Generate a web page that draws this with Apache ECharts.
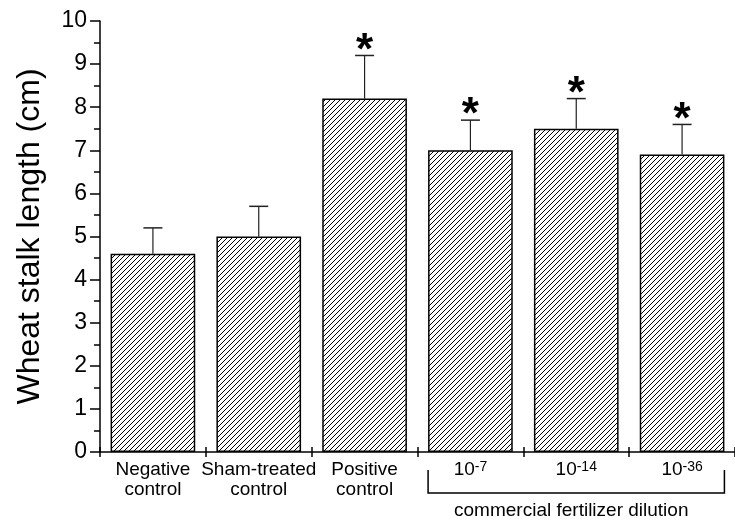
<!DOCTYPE html>
<html><head><meta charset="utf-8">
<script src="https://cdn.jsdelivr.net/npm/echarts@6/dist/echarts.min.js"></script>
<style>html,body{margin:0;padding:0;background:#fff}#c{width:735px;height:521px}</style>
</head><body><div id="c"></div>
<script>
// ---- data ----
const categories = ['Negative control', 'Sham-treated control', 'Positive control', '1e-7', '1e-14', '1e-36'];
const categoryLabels = ['Negative\ncontrol', 'Sham-treated\ncontrol', 'Positive\ncontrol', '{b|10}{s|-7}', '{b|10}{s|-14}', '{b|10}{s|-36}'];
const means = [4.6, 5.0, 8.2, 7.0, 7.5, 6.9];
const errorTops = [5.2, 5.7, 9.2, 7.7, 8.2, 7.6];
const significant = [0, 0, 1, 1, 1, 1];
const yMin = 0, yMax = 10, yStep = 1;
const yTitle = 'Wheat stalk length (cm)';
const groupLabel = 'commercial fertilizer dilution';
const groupFirst = 3, groupLast = 5;

const FONT = '"Liberation Sans", Arial, sans-serif';

function hatchPattern() {
  const s = 5, c = document.createElement('canvas');
  c.width = s; c.height = s;
  const g = c.getContext('2d');
  g.fillStyle = '#fff'; g.fillRect(0, 0, s, s);
  g.strokeStyle = '#000'; g.lineWidth = 1.0;
  g.beginPath();
  g.moveTo(0, s); g.lineTo(s, 0);
  g.moveTo(-1, 1); g.lineTo(1, -1);
  g.moveTo(s - 1, s + 1); g.lineTo(s + 1, s - 1);
  g.stroke();
  return c;
}

const chart = echarts.init(document.getElementById('c'), null, {renderer: 'canvas'});
const errData = categories.map((c, i) => [i, means[i], errorTops[i], significant[i]]);

const option = {
  animation: false,
  backgroundColor: '#fff',
  grid: {left: 100, right: -8, top: 21, bottom: 69, containLabel: false},
  xAxis: [{
    type: 'category', data: categories,
    axisLine: {lineStyle: {color: '#000', width: 1.5}},
    axisTick: {show: true, length: 5, interval: 0, lineStyle: {color: '#000', width: 1.5}},
    axisLabel: {
      interval: 0, hideOverlap: false,
      color: '#000', fontFamily: FONT, fontSize: 19, lineHeight: 20, margin: 8,
      formatter: (v, i) => categoryLabels[i],
      rich: {
        b: {fontFamily: FONT, fontSize: 19, color: '#000', lineHeight: 20},
        s: {fontFamily: FONT, fontSize: 14, color: '#000', verticalAlign: 'top', lineHeight: 11}
      }
    }
  }, {
    type: 'category', data: categories, position: 'bottom',
    axisLine: {show: false},
    axisTick: {show: true, inside: true, interval: 0, length: 5, lineStyle: {color: '#000', width: 1.5}},
    axisLabel: {show: false}
  }],
  yAxis: {
    type: 'value', min: yMin, max: yMax, interval: yStep,
    name: yTitle, nameLocation: 'middle', nameGap: 54,
    nameTextStyle: {fontFamily: FONT, fontSize: 32, color: '#000'},
    axisLine: {show: true, lineStyle: {color: '#000', width: 1.5}},
    axisTick: {show: true, length: 10, lineStyle: {color: '#000', width: 1.5}},
    minorTick: {show: true, splitNumber: 2, length: 6, lineStyle: {color: '#000', width: 1.5}},
    splitLine: {show: false},
    axisLabel: {color: '#000', fontFamily: FONT, fontSize: 23, margin: 13}
  },
  series: [{
    type: 'bar', data: means, barCategoryGap: '20%',
    itemStyle: {color: {image: hatchPattern(), repeat: 'repeat'}, borderColor: '#000', borderWidth: 1.5},
    z: 2
  }, {
    type: 'custom', data: errData, z: 3,
    renderItem: function (params, api) {
      const m = api.value(1), t = api.value(2), st = api.value(3);
      const i = api.value(0);
      const p0 = api.coord([i, m]), p1 = api.coord([i, t]);
      const ch = [
        {type: 'line', shape: {x1: p0[0], y1: p0[1], x2: p1[0], y2: p1[1]}, style: {stroke: '#222', lineWidth: 1.2}},
        {type: 'line', shape: {x1: p1[0] - 9.5, y1: p1[1], x2: p1[0] + 9.5, y2: p1[1]}, style: {stroke: '#222', lineWidth: 1.5}}
      ];
      if (st) ch.push({type: 'text', style: {text: '*', x: p1[0], y: p1[1] + 18, align: 'center', verticalAlign: 'bottom', font: 'bold 44px ' + FONT, fill: '#000'}});
      return {type: 'group', children: ch};
    }
  }]
};
chart.setOption(option);

// group bracket placed from the axis scale
const c0 = chart.convertToPixel({xAxisIndex: 0}, groupFirst);
const c1 = chart.convertToPixel({xAxisIndex: 0}, groupFirst + 1);
const cL = chart.convertToPixel({xAxisIndex: 0}, groupLast);
const bw = c1 - c0;
const xl = c0 - bw * 0.4, xr = cL + bw * 0.4;
const yAx = chart.convertToPixel({yAxisIndex: 0}, 0);
const yTop = yAx + 18, yBot = yAx + 41;
chart.setOption({
  graphic: [
    {type: 'polyline', shape: {points: [[xl, yTop], [xl, yBot], [xr, yBot], [xr, yTop]]}, style: {stroke: '#000', lineWidth: 1.5, fill: null}},
    {type: 'text', x: (xl + xr) / 2 - 5, y: yBot + 18, style: {text: groupLabel, align: 'center', verticalAlign: 'middle', font: '19px ' + FONT, fill: '#000'}}
  ]
});
</script></body></html>
